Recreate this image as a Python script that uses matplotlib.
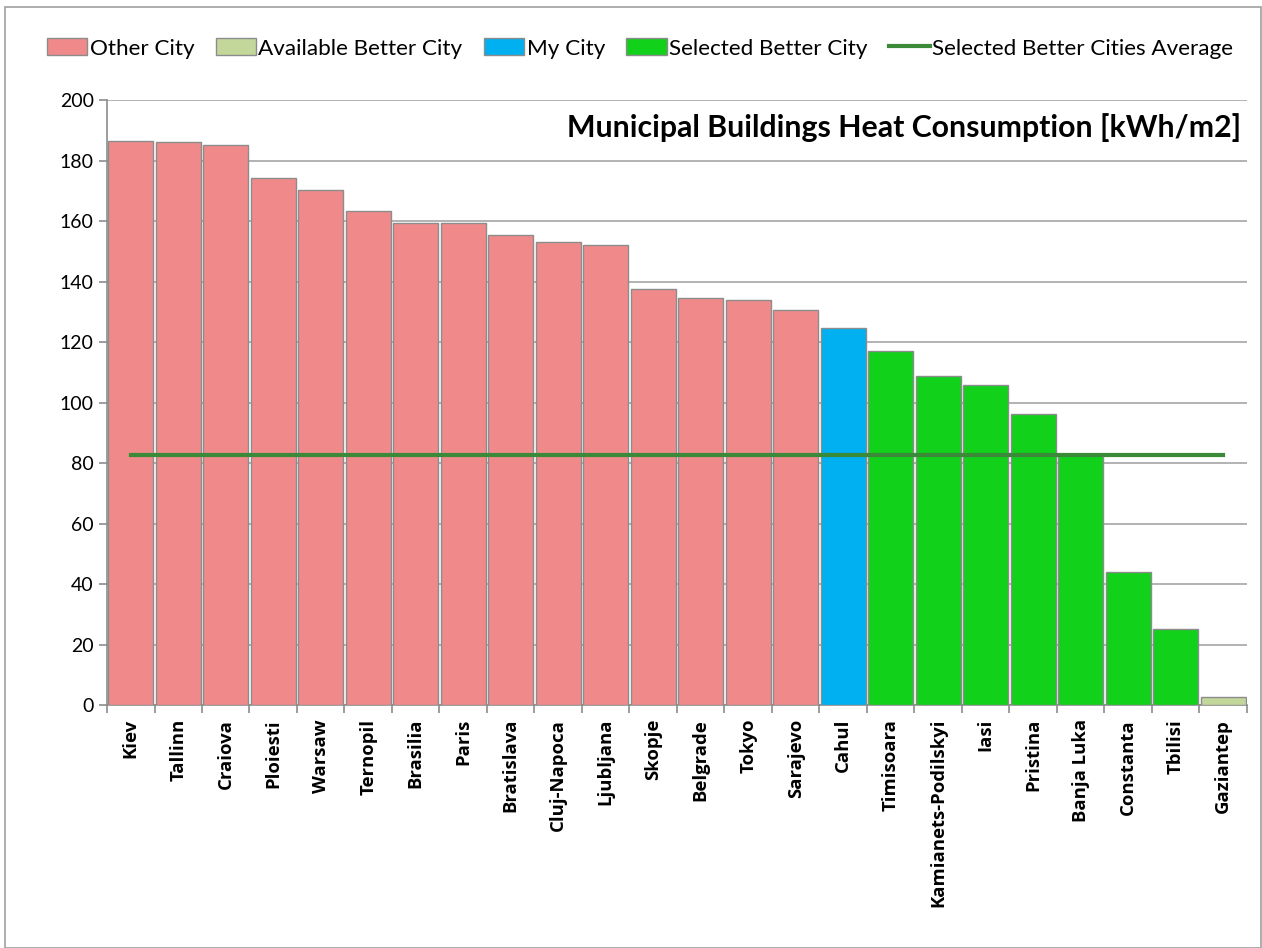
import matplotlib.pyplot as plt
from matplotlib.patches import Rectangle, Patch
from matplotlib.lines import Line2D

plt.rcParams['font.family'] = ['Lato', 'DejaVu Sans']

cities = ["Kiev", "Tallinn", "Craiova", "Ploiesti", "Warsaw", "Ternopil", "Brasilia",
          "Paris", "Bratislava", "Cluj-Napoca", "Ljubljana", "Skopje", "Belgrade",
          "Tokyo", "Sarajevo", "Cahul", "Timisoara", "Kamianets-Podilskyi", "Iasi",
          "Pristina", "Banja Luka", "Constanta", "Tbilisi", "Gaziantep"]
values = [186.4, 186.0, 185.0, 174.3, 170.2, 163.4, 159.4, 159.4, 155.3, 153.2,
          152.2, 137.5, 134.5, 134.0, 130.5, 124.5, 116.9, 108.8, 105.7, 96.2,
          83.0, 44.0, 25.1, 2.5]
groups = ["other"] * 15 + ["my"] + ["selected"] * 7 + ["available"]
average = 82.7

colors = {"other": "#f08a8a", "available": "#c4d79b", "my": "#00b0f0", "selected": "#11d11b"}

fig = plt.figure(figsize=(12.62, 9.48), dpi=100)
fig.patches.append(Rectangle((0.004, 0.0), 0.995, 0.993, transform=fig.transFigure,
                             fill=False, edgecolor="#a0a0a0", linewidth=1.2))
ax = fig.add_axes([0.0848, 0.2563, 0.9032, 0.6382])

n = len(cities)
x = list(range(n))
ax.bar(x, values, width=0.95, color=[colors[g] for g in groups],
       edgecolor="#8c8c8c", linewidth=1, zorder=3)
ax.plot([0, n - 1], [average, average], color="#3a8a3a", linewidth=3, zorder=4)

ax.set_xlim(-0.5, n - 0.5)
ax.set_ylim(0, 200)
ax.set_yticks(range(0, 201, 20))
ax.yaxis.grid(True, color="#a6a6a6", linewidth=1.2, zorder=0)
ax.set_xticks(x)
ax.set_xticklabels(cities, rotation=90, fontsize=13.3, fontweight="bold",
                   family=["Open Sans", "DejaVu Sans"])
ax.set_xticks([i - 0.5 for i in range(n + 1)], minor=True)
ax.tick_params(axis="x", which="major", length=0, pad=10)
ax.tick_params(axis="x", which="minor", length=6, color="#8c8c8c", width=1.2)
ax.tick_params(axis="y", labelsize=14, length=6, color="#8c8c8c", width=1.2)
for s in ["top", "right"]:
    ax.spines[s].set_visible(False)
for s in ["left", "bottom"]:
    ax.spines[s].set_color("#8c8c8c")
    ax.spines[s].set_linewidth(1.2)

ax.text(0.995, 0.955, "Municipal Buildings Heat Consumption [kWh/m2]", transform=ax.transAxes,
        ha="right", va="center", fontsize=21.8, fontweight="bold")

handles = [Patch(facecolor=colors["other"], edgecolor="#8c8c8c"),
           Patch(facecolor=colors["available"], edgecolor="#8c8c8c"),
           Patch(facecolor=colors["my"], edgecolor="#8c8c8c"),
           Patch(facecolor=colors["selected"], edgecolor="#8c8c8c"),
           Line2D([], [], color="#3a8a3a", linewidth=3)]
labels = ["Other City", "Available Better City", "My City", "Selected Better City",
          "Selected Better Cities Average"]
fig.legend(handles, labels, loc="center", bbox_to_anchor=(0.507, 0.949), ncol=5,
           frameon=False, fontsize=16.2, handlelength=1.8, handletextpad=0.1,
           columnspacing=0.95, handleheight=0.8)

fig.savefig("out.png", dpi=100)
